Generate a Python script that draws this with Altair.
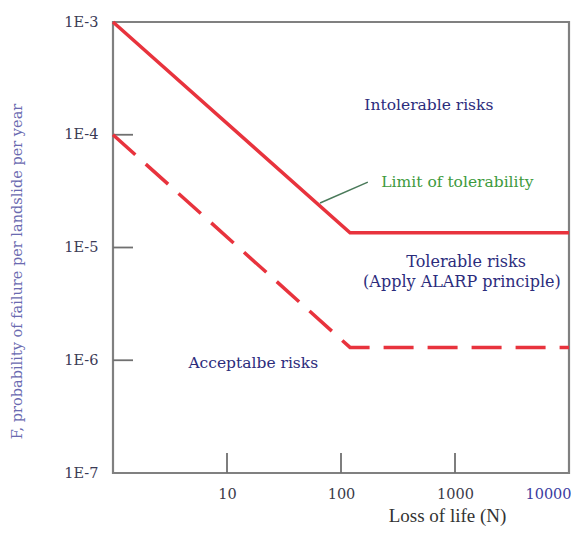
import altair as alt
import pandas as pd

# Lines (N = loss of life, F = annual probability)
solid_N = [1, 120, 10000]
solid_F = [1e-3, 1.35e-5, 1.35e-5]
dashed_N = [1, 120, 10000]
dashed_F = [1e-4, 1.3e-6, 1.3e-6]

# Axis tick values
x_ticks = [10, 100, 1000, 10000]
y_ticks = [1e-7, 1e-6, 1e-5, 1e-4, 1e-3]
x_inner_ticks = [10, 100, 1000]
y_inner_ticks = [1e-6, 1e-5, 1e-4]

# Region annotations
ann_text = ["Intolerable risks", "Tolerable risks", "(Apply ALARP principle)", "Acceptalbe risks"]
ann_N = [590, 1250, 1150, 17]
ann_F = [1.84e-4, 7.4e-6, 4.9e-6, 9.5e-7]
ann_size = [15.5, 16, 16, 15.5]

limit_text = ["Limit of tolerability"]
limit_N = [1050]
limit_F = [3.8e-5]
leader_N = [65.5, 172]
leader_F = [2.48e-5, 3.8e-5]

SERIF = "DejaVu Serif"
RED = "#e8333d"
NAVY = "#2c2c7c"

xscale = alt.Scale(type="log", domain=[1, 10000], nice=False)
yscale = alt.Scale(type="log", domain=[1e-7, 1e-3], nice=False)

xaxis = alt.Axis(
    values=x_ticks, ticks=False, tickSize=0, domain=False, grid=False,
    labelExpr="'' + datum.value",
    labelFont=SERIF, labelFontSize=14.5, labelPadding=14, labelFlush=False,
    labelOverlap=False,
    labelColor={"condition": {"test": "datum.value == 10000", "value": "#3b3ba0"}, "value": "#3a3a48"},
    labelOffset={"condition": {"test": "datum.value == 10000", "value": -21}, "value": 0},
    title="Loss of life (N)", titleFont="Liberation Serif", titleFontSize=19, titleFontWeight="normal",
    titleColor="#333333", titleX=334, titleY=42, titleAlign="center", titleBaseline="middle",
)
yaxis = alt.Axis(
    values=y_ticks, ticks=False, tickSize=0, domain=False, grid=False,
    labelExpr="'1E' + round(log(datum.value)/LN10)",
    labelFont=SERIF, labelFontSize=14.5, labelPadding=15, labelColor="#3a3a55",
    labelOverlap=False,
    title="F, probability of failure per landslide per year", titleFont=SERIF,
    titleFontSize=14.5, titleFontWeight="normal", titleColor="#6a6ab0",
    titleX=-96, titleY=249, titleAngle=270, titleAlign="center", titleBaseline="middle",
)

solid_df = pd.DataFrame({"N": solid_N, "F": solid_F})
dashed_df = pd.DataFrame({"N": dashed_N, "F": dashed_F})

solid = alt.Chart(solid_df).mark_line(color=RED, strokeWidth=3.5).encode(
    x=alt.X("N:Q", scale=xscale, axis=xaxis),
    y=alt.Y("F:Q", scale=yscale, axis=yaxis),
)
dashed = alt.Chart(dashed_df).mark_line(color=RED, strokeWidth=3.5, strokeDash=[30, 14]).encode(
    x=alt.X("N:Q", scale=xscale),
    y=alt.Y("F:Q", scale=yscale),
)

xt = alt.Chart(pd.DataFrame({"N": x_inner_ticks})).mark_rule(color="#707070", strokeWidth=1.8).encode(
    x=alt.X("N:Q", scale=xscale), y=alt.value(451), y2=alt.value(431)
)
yt = alt.Chart(pd.DataFrame({"F": y_inner_ticks})).mark_rule(color="#707070", strokeWidth=1.8).encode(
    y=alt.Y("F:Q", scale=yscale), x=alt.value(0), x2=alt.value(20)
)

ann = alt.Chart(pd.DataFrame({"t": ann_text, "N": ann_N, "F": ann_F, "s": ann_size})).mark_text(
    font=SERIF, color=NAVY, align="center", baseline="middle"
).encode(
    x=alt.X("N:Q", scale=xscale), y=alt.Y("F:Q", scale=yscale), text="t:N",
    size=alt.Size("s:Q", scale=None, legend=None),
)

limit = alt.Chart(pd.DataFrame({"t": limit_text, "N": limit_N, "F": limit_F})).mark_text(
    font=SERIF, fontSize=15.5, color="#3d9a3d", align="center", baseline="middle"
).encode(x=alt.X("N:Q", scale=xscale), y=alt.Y("F:Q", scale=yscale), text="t:N")

leader = alt.Chart(pd.DataFrame({"N": leader_N, "F": leader_F})).mark_line(
    color="#4a7a5a", strokeWidth=1.5
).encode(x=alt.X("N:Q", scale=xscale), y=alt.Y("F:Q", scale=yscale))

chart = alt.layer(xt, yt, solid, dashed, leader, ann, limit).properties(
    width=456, height=451,
    background="white",
    autosize=alt.AutoSizeParams(type="none"),
    padding={"left": 105, "top": 14, "right": 2, "bottom": 54},
).configure_view(stroke="#808080", strokeWidth=2.2)

chart.save("out.html", embed_options={"renderer": "svg", "actions": False})
